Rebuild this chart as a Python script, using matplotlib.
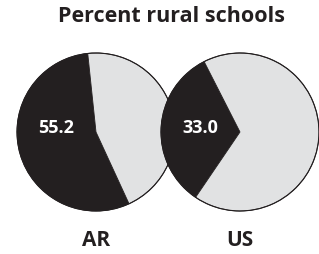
import matplotlib
matplotlib.use("Agg")
import matplotlib.pyplot as plt

# data
regions = ["AR", "US"]
rural_pct = [55.2, 33.0]
start_angles = [96, 117]
title = "Percent rural schools"

dark = "#231f20"
light = "#e1e2e3"

plt.rcParams['font.family'] = ['Open Sans', 'DejaVu Sans']

fig = plt.figure(figsize=(3.19, 2.54), dpi=100)
ax = fig.add_axes([0, 0, 1, 1])
ax.set_xlim(0, 319)
ax.set_ylim(254, 0)
ax.set_aspect('equal')
ax.axis('off')

centers = [(96, 132), (240, 132)]
radius = 79

for name, pct, sa, (cx, cy) in zip(regions, rural_pct, start_angles, centers):
    # y axis is inverted, so flip the pie direction to keep it counterclockwise on screen
    ax.pie([pct, 100 - pct], colors=[dark, light], startangle=-sa, counterclock=False,
           center=(cx, cy), radius=radius,
           wedgeprops=dict(edgecolor=dark, linewidth=0.6))
    # redraw the outline cleanly
    ax.add_patch(plt.Circle((cx, cy), radius, fill=False, edgecolor=dark, linewidth=0.8))
    ax.text(cx - 40, cy - 4, f"{pct:.1f}", color="white", fontsize=13, fontweight="bold",
            ha="center", va="center")
    ax.text(cx, 241, name, color=dark, fontsize=15, fontweight="bold",
            ha="center", va="center")

ax.set_xlim(0, 319)
ax.set_ylim(254, 0)
ax.text(171, 17, title, color=dark, fontsize=15.5, fontweight="bold",
        ha="center", va="center")

fig.savefig("out.png", dpi=100)
